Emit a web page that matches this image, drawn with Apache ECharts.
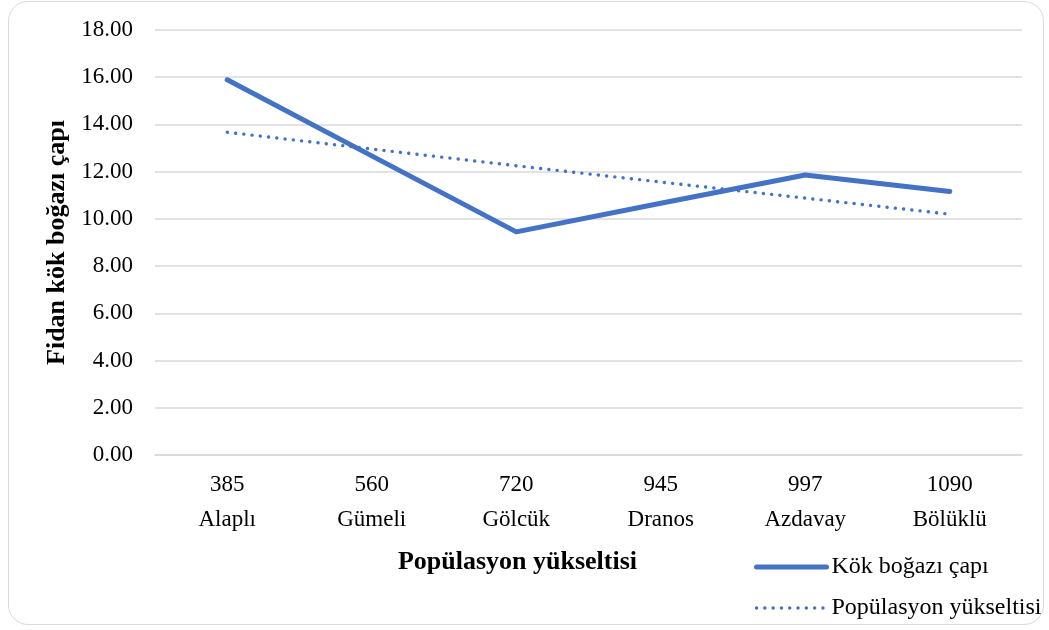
<!DOCTYPE html>
<html>
<head>
<meta charset="utf-8">
<script src="https://cdn.jsdelivr.net/npm/echarts@6/dist/echarts.min.js"></script>
<style>
  html, body { margin: 0; padding: 0; background: #fff; }
  .frame {
    position: absolute; left: 8px; top: 1px; width: 1036px; height: 624px;
    border: 1.5px solid #d9d9d9; border-radius: 20px; box-sizing: border-box;
  }
  #chart { position: absolute; left: 0; top: 0; width: 1049px; height: 630px; }
</style>
</head>
<body>
<div class="frame"></div>
<div id="chart"></div>
<script>
// kategori: yükselti + populasyon
const elevations = ['385', '560', '720', '945', '997', '1090']
const populations = ['Alaplı', 'Gümeli', 'Gölcük', 'Dranos', 'Azdavay', 'Bölüklü']
const rootCollar = [15.89, 12.67, 9.45, 10.66, 11.86, 11.16]
const trendValues = [13.67, 12.96, 12.25, 11.56, 10.88, 10.2]
const yTicks = [0, 18, 2]

const font = '"Liberation Serif", "Times New Roman", serif'
const lineColor = '#4472C4'
const solidStyle = { color: lineColor, width: 5, cap: 'round', join: 'round' }
const dottedStyle = { color: lineColor, width: 3.4, type: [0.1, 8.2], cap: 'round' }

const chart = echarts.init(document.getElementById('chart'))

const option = {
  animation: false,
  textStyle: { fontFamily: font, color: '#000' },
  grid: { left: 155, right: 27, top: 30, bottom: 175 },
  legend: {
    orient: 'vertical',
    left: 749,
    top: 550,
    itemWidth: 70,
    itemHeight: 14,
    itemGap: 17,
    textStyle: { fontFamily: font, fontSize: 24, color: '#000', padding: [0, 0, 0, 0] },
    data: [
      { name: 'Kök boğazı çapı', lineStyle: solidStyle, itemStyle: { opacity: 0 } },
      { name: 'Popülasyon yükseltisi', lineStyle: dottedStyle, itemStyle: { opacity: 0 } },
    ],
  },
  xAxis: {
    type: 'category',
    data: elevations.map((e, i) => e + '\n' + populations[i]),
    axisTick: { show: false },
    axisLine: { lineStyle: { color: '#d9d9d9', width: 1.5 } },
    axisLabel: { fontFamily: font, fontSize: 23, color: '#000', lineHeight: 35, margin: 12 },
    name: 'Popülasyon yükseltisi',
    nameLocation: 'middle',
    nameGap: 94,
    nameTextStyle: {
      fontFamily: font, fontSize: 26, fontWeight: 'bold', color: '#000',
      padding: [0, 142, 0, 0],
    },
  },
  yAxis: {
    type: 'value',
    min: yTicks[0],
    max: yTicks[1],
    interval: yTicks[2],
    axisLine: { show: false },
    axisTick: { show: false },
    splitLine: { lineStyle: { color: '#d9d9d9', width: 1.5 } },
    axisLabel: {
      fontFamily: font, fontSize: 23, color: '#000', margin: 22,
      formatter: (v) => v.toFixed(2),
    },
    name: 'Fidan kök boğazı çapı',
    nameLocation: 'middle',
    nameGap: 84,
    nameRotate: 90,
    nameTextStyle: { fontFamily: font, fontSize: 26, fontWeight: 'bold', color: '#000' },
  },
  series: [
    {
      name: 'Kök boğazı çapı',
      type: 'line',
      symbol: 'none',
      data: rootCollar,
      lineStyle: solidStyle,
      itemStyle: { color: lineColor },
      z: 3,
    },
    {
      name: 'Popülasyon yükseltisi',
      type: 'line',
      symbol: 'none',
      data: trendValues,
      lineStyle: dottedStyle,
      itemStyle: { color: lineColor },
      z: 2,
    },
  ],
}

chart.setOption(option)
</script>
</body>
</html>
